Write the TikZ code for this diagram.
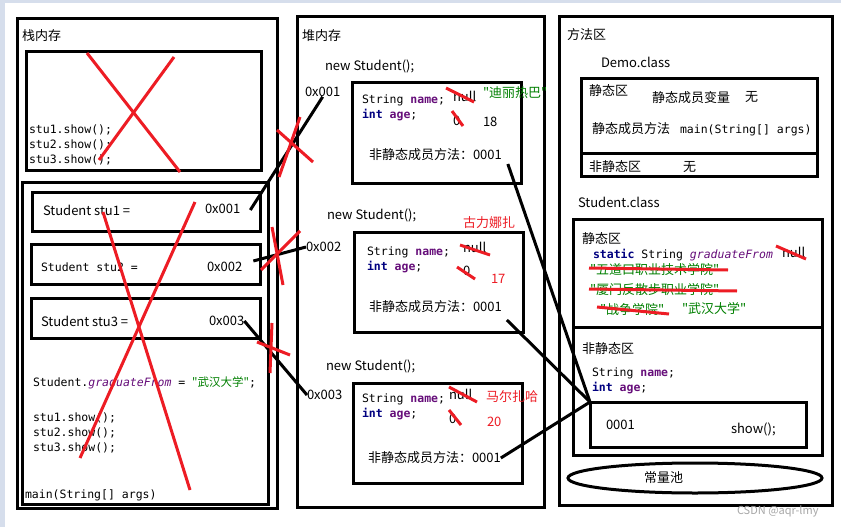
\documentclass[tikz,border=0pt]{standalone}
\usepackage{fontspec}
\setmainfont{Noto Sans CJK SC}
\setmonofont{DejaVu Sans Mono}
\newfontfamily\cjk{Noto Sans CJK SC}
\usepackage{xcolor}
\usetikzlibrary{shapes,arrows,positioning,fit,calc}

\definecolor{kwblue}{RGB}{0,0,128}
\definecolor{fieldpurple}{RGB}{102,14,122}
\definecolor{strgreen}{RGB}{0,128,0}
\definecolor{paintred}{RGB}{237,28,36}
\definecolor{edgeblue}{RGB}{214,222,236}

\newcommand{\kw}[1]{\textcolor{kwblue}{\bfseries #1}}
\newcommand{\fld}[1]{\textcolor{fieldpurple}{\bfseries #1}}
\newcommand{\sfld}[1]{\textcolor{fieldpurple}{\itshape #1}}
\newcommand{\jstr}[1]{\textcolor{strgreen}{\cjk #1}}

\begin{document}
\begin{tikzpicture}[x=1pt, y=-1pt,
    every node/.style={inner sep=0pt, outer sep=0pt, font=\fontsize{13}{15}\selectfont},
    box/.style={draw, rectangle, line width=3pt, anchor=north west},
    txt/.style={anchor=west},
    code/.style={anchor=west, align=left, font=\ttfamily\fontsize{11.5}{15}\selectfont},
    note/.style={anchor=west, text=paintred},
    link/.style={line width=3pt},
    redline/.style={draw=paintred, line width=3pt}]
    \useasboundingbox (0,0) rectangle (841,527);
    \fill [white] (0,0) rectangle (841,527);
    \fill [edgeblue] (0,0) rectangle (841,3);
    \fill [edgeblue] (0,0) rectangle (5,527);

    % stack
    \node (stack) [box, minimum width=260pt, minimum height=489pt] at (17,19) {};
    \node (stacktop) [box, minimum width=235pt, minimum height=118pt] at (26,52) {};
    \node (mainframe) [box, minimum width=246pt, minimum height=322pt] at (22,182) {};
    \node (stubox1) [box, minimum width=228pt, minimum height=39pt] at (32,192) {};
    \node (stubox2) [box, minimum width=229pt, minimum height=40pt] at (31,244) {};
    \node (stubox3) [box, minimum width=229pt, minimum height=40pt] at (31,298) {};

    \node (stacklbl) [txt] at (22,36) {栈内存};
    \node (oldcalls) [code] at (29,145) {stu1.show();\\stu2.show();\\stu3.show();};
    \node (stuvar1) [txt] at (43,210) {Student stu1 =};
    \node (addr1) [txt] at (205,209) {0x001};
    \node (stuvar2) [code] at (41,267) {Student stu2 =};
    \node (addr2) [txt] at (207,267) {0x002};
    \node (stuvar3) [txt] at (41,321) {Student stu3 =};
    \node (addr3) [txt] at (209,321) {0x003};
    \node (assign) [code] at (33,383) {Student.\sfld{graduateFrom} = \jstr{"武汉大学"};};
    \node (calls) [code] at (33,433) {stu1.show();\\stu2.show();\\stu3.show();};
    \node (mainlbl) [code] at (25,495) {main(String[] args)};

    % heap
    \node (heap) [box, minimum width=247pt, minimum height=490pt] at (297,17) {};
    \node (obj1) [box, minimum width=169pt, minimum height=100pt] at (352,83) {};
    \node (obj2) [box, minimum width=169pt, minimum height=100pt] at (354,232) {};
    \node (obj3) [box, minimum width=169pt, minimum height=100pt] at (353,383) {};

    \node (heaplbl) [txt] at (302,36) {堆内存};
    \node (new1) [txt] at (325,66) {new Student();};
    \node (new2) [txt] at (327,215) {new Student();};
    \node (new3) [txt] at (326,366) {new Student();};
    \node (haddr1) [txt] at (305,92) {0x001};
    \node (haddr2) [txt] at (306,247) {0x002};
    \node (haddr3) [txt] at (307,395) {0x003};

    \node (fields1) [code] at (362,108) {String \fld{name};\\\kw{int} \fld{age};};
    \node (null1) [txt] at (453,96) {null};
    \node (name1) [txt] at (483,93) {\jstr{"迪丽热巴"}};
    \node (zero1) [txt] at (453,121) {0};
    \node (age1) [txt] at (483,122) {18};
    \node (meth1) [txt] at (369,155) {非静态成员方法：0001};

    \node (fields2) [code] at (367,260) {String \fld{name};\\\kw{int} \fld{age};};
    \node (name2) [note] at (463,223) {古力娜扎};
    \node (null2) [txt] at (463,247) {null};
    \node (zero2) [txt] at (463,271) {0};
    \node (age2) [note] at (491,279) {17};
    \node (meth2) [txt] at (369,307) {非静态成员方法：0001};

    \node (fields3) [code] at (362,407) {String \fld{name};\\\kw{int} \fld{age};};
    \node (null3) [txt] at (449,394) {null};
    \node (name3) [note] at (486,397) {马尔扎哈};
    \node (zero3) [txt] at (449,419) {0};
    \node (age3) [note] at (487,422) {20};
    \node (meth3) [txt] at (368,458) {非静态成员方法：0001};

    % method area
    \node (methodarea) [box, minimum width=273pt, minimum height=488pt] at (559,17) {};
    \node (democls) [box, minimum width=236pt, minimum height=97pt] at (581,79) {};
    \node (studentcls) [box, minimum width=249pt, minimum height=236pt] at (573,219) {};
    \node (showbox) [box, minimum width=216pt, minimum height=45pt] at (590,402) {};
    \node (pool) [draw, ellipse, line width=3pt, minimum width=254pt, minimum height=30pt] at (695,478) {};
    \draw [line width=3pt] ([yshift=23pt]democls.south west) -- ([yshift=23pt]democls.south east);
    \draw [line width=3pt] ([yshift=128pt]studentcls.south west) -- ([yshift=128pt]studentcls.south east);

    \node (methlbl) [txt] at (567,35) {方法区};
    \node (demolbl) [txt] at (601,62) {Demo.class};
    \node (demostatic) [txt] at (589,91) {静态区};
    \node (demovars) [txt] at (652,98) {静态成员变量};
    \node (demonone1) [txt] at (745,97) {无};
    \node (demometh) [txt] at (592,129) {静态成员方法};
    \node (demomain) [code] at (680,130) {main(String[] args)};
    \node (demononstatic) [txt] at (589,167) {非静态区};
    \node (demonone2) [txt] at (683,167) {无};

    \node (studentlbl) [txt] at (578,202) {Student.class};
    \node (stustatic) [txt] at (582,239) {静态区};
    \node (gradfield) [code] at (593,255) {\kw{static} String \sfld{graduateFrom}};
    \node (gradnull) [txt] at (782,252) {null};
    \node (school1) [txt] at (590,270) {\jstr{"五道口职业技术学院"}};
    \node (school2) [txt] at (590,290) {\jstr{"厦门反散步职业学院"}};
    \node (school3) [txt] at (600,310) {\jstr{"战争学院"}};
    \node (school4) [txt] at (682,309) {\jstr{"武汉大学"}};
    \node (stunonstatic) [txt] at (582,349) {非静态区};
    \node (stufields) [code] at (592,381) {String \fld{name};\\\kw{int} \fld{age};};
    \node (methaddr) [txt] at (606,425) {0001};
    \node (showlbl) [txt] at (731,429) {show();};
    \node (poollbl) [txt] at (644,478) {常量池};
    \node (wmark) [txt, text=black!35, font=\fontsize{11}{13}\selectfont] at (737,511) {CSDN @aqr-lmy};

    % references
    \draw [link] ([shift={(10pt,-1pt)}]addr1.east) -- (haddr1.south);
    \draw [link] ([shift={(11pt,6pt)}]addr2.east) -- (haddr2.west);
    \draw [link] (addr3.east) -- (haddr3.west);
    \draw [link] ([shift={(6pt,-9pt)}]meth1.east) -- (showbox.north west);
    \draw [link] ([shift={(5pt,-13pt)}]meth2.east) -- (showbox.north west);
    \draw [link] (meth3.east) -- (showbox.north west);

    % red marks
    \draw [redline] (87,53) -- (180,172);
    \draw [redline] (174,57) -- (99,160);
    \draw [redline] (103,212) -- (190,490);
    \draw [redline] (195,202) -- (80,458);
    \draw [redline] (277,130) -- (313,162);
    \draw [redline] (300,117) -- (279,177);
    \draw [redline] (272,227) -- (283,285);
    \draw [redline] (300,231) -- (261,270);
    \draw [redline] (272,323) -- (270,373);
    \draw [redline] (257,342) -- (290,355);
    \draw [redline] (446,88) -- (474,102);
    \draw [redline] (452,111) -- (463,126);
    \draw [redline] (460,245) -- (490,255);
    \draw [redline] (457,267) -- (475,279);
    \draw [redline] (449,387) -- (477,402);
    \draw [redline] (449,410) -- (461,425);
    \draw [redline] (776,246) -- (806,259);
    \draw [redline] (589,268) -- (728,270);
    \draw [redline] (589,289) -- (737,291);
    \draw [redline] (597,307) -- (669,314);
\end{tikzpicture}
\end{document}
